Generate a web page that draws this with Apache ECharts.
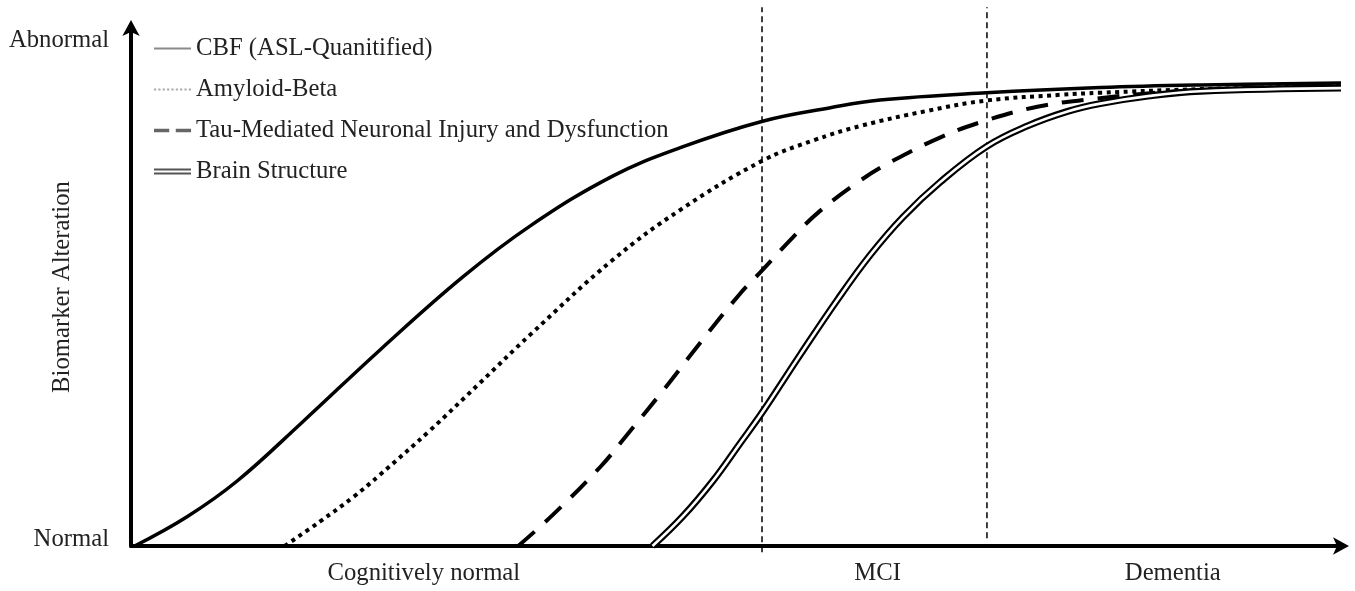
<!DOCTYPE html>
<html><head><meta charset="utf-8">
<script src="https://cdn.jsdelivr.net/npm/echarts@6/dist/echarts.min.js"></script>
<style>html,body{margin:0;padding:0;background:#fff}#c{width:1355px;height:591px}</style>
</head><body><div id="c"></div>
<script>
const seriesNames = ['CBF (ASL-Quanitified)', 'Amyloid-Beta', 'Tau-Mediated Neuronal Injury and Dysfunction', 'Brain Structure'];
const stageLabels = ['Cognitively normal', 'MCI', 'Dementia'];
const stageLabelPos = [24.2, 61.7, 86.1];
const stageBounds = [52.15, 70.74];
const levelLabels = ['Normal', 'Abnormal'];
const levelLabelPos = [1.2, 97.5];
const yTitle = 'Biomarker Alteration';

const cbf = [[0.3,0],[4.6,5.6],[8.8,12.6],[14.2,24.0],[20.6,37.9],[27.4,51.9],[33.0,61.8],[39.8,71.4],[45.4,76.9],[52.2,82.0],[57.8,84.6],[61.9,86.1],[70.7,87.5],[80.1,88.5],[88.4,89.0],[100,89.4]];
const amyloid = [[12.7,0],[15.6,4.7],[18.4,9.5],[20.6,13.8],[24.7,22.3],[28.8,31.4],[33.0,40.8],[39.8,55.2],[45.4,64.9],[52.2,74.4],[56.4,78.3],[60.3,81.1],[65.8,84.0],[70.7,86.0],[76.8,87.1],[80.1,87.5],[88.4,88.2],[100,88.8]];
const tau = [[32.0,0],[34.9,6.1],[38.8,15.3],[40.8,20.9],[44.0,30.1],[47.0,39.1],[50.3,48.6],[52.2,53.3],[54.7,59.6],[56.9,64.6],[60.3,70.6],[63.0,74.4],[66.9,78.9],[70.2,81.8],[74.9,84.8],[79.5,86.3],[84.2,87.4],[88.4,88.0],[100,88.6]];
const brain = [[43.1,0],[45.6,5.7],[48.1,12.6],[50.3,19.7],[52.2,25.9],[55.3,36.9],[58.4,47.6],[61.1,56.2],[63.8,63.5],[66.9,70.3],[70.7,77.1],[74.1,81.1],[77.4,83.9],[80.1,85.4],[84.2,86.9],[88.4,87.8],[100,88.4]];

const F = '"Liberation Serif", "Times New Roman", serif';
const txt = {fontFamily: F, fontSize: 24.7, color: '#222'};

const chart = echarts.init(document.getElementById('c'));
const boundLine = (x, y0) => ({
  type: 'line', data: [[x, y0], [x, 104]], clip: false, symbol: 'none', silent: true,
  lineStyle: {color: '#000', width: 1.5, type: [6, 4]}, z: 1
});
const curve = (name, data, lineStyle, z) => ({
  name: name, type: 'line', data: data, symbol: 'none', smooth: 0.4, silent: true,
  lineStyle: lineStyle, itemStyle: {color: lineStyle.color}, z: z
});
chart.setOption({
  animation: false,
  backgroundColor: '#fff',
  grid: {left: 131, right: 14, top: 28, bottom: 45, outerBoundsMode: 'none', containLabel: false},
  legend: {
    orient: 'vertical', left: 154, top: 36, padding: 0, itemWidth: 37, itemHeight: 12, itemGap: 16,
    selectedMode: false, textStyle: txt,
    data: [
      {name: seriesNames[0], icon: 'path://M0,0h36v2h-36z', itemStyle: {color: '#8a8a8a'}},
      {name: seriesNames[1], icon: 'path://M0,0h2v2h-2zM4,0h2v2h-2zM8,0h2v2h-2zM12,0h2v2h-2zM16,0h2v2h-2zM20,0h2v2h-2zM24,0h2v2h-2zM28,0h2v2h-2zM32,0h2v2h-2z', itemStyle: {color: '#aaaaaa'}},
      {name: seriesNames[2], icon: 'path://M0,0h14v3h-14zM20,0h14v3h-14z', itemStyle: {color: '#666'}},
      {name: seriesNames[3], icon: 'path://M0,0h36v2h-36zM0,4h36v2h-36z', itemStyle: {color: '#555'}}
    ]
  },
  xAxis: {
    type: 'value', min: 0, max: 100,
    splitLine: {show: false}, axisTick: {show: false},
    axisLine: {onZero: false, lineStyle: {color: '#000', width: 4}, symbol: ['none', 'arrow'], symbolSize: [13, 16], symbolOffset: [0, 8]},
    axisLabel: Object.assign({customValues: stageLabelPos, margin: 15,
      formatter: v => stageLabels[stageLabelPos.indexOf(v)] || ''}, txt)
  },
  yAxis: {
    type: 'value', min: 0, max: 100,
    splitLine: {show: false}, axisTick: {show: false},
    axisLine: {onZero: false, lineStyle: {color: '#000', width: 4}, symbol: ['none', 'arrow'], symbolSize: [13, 16], symbolOffset: [0, 8]},
    axisLabel: Object.assign({customValues: levelLabelPos, margin: 22,
      formatter: v => levelLabels[levelLabelPos.indexOf(v)] || ''}, txt),
    name: yTitle, nameLocation: 'middle', nameGap: 56, nameRotate: 90, nameMoveOverlap: false, nameTextStyle: txt
  },
  series: [
    boundLine(stageBounds[0], -1.2),
    boundLine(stageBounds[1], 1.5),
    curve(seriesNames[0], cbf, {color: '#000', width: 3.5}, 3),
    curve(seriesNames[1], amyloid, {color: '#000', width: 4, type: [4, 4.5]}, 3),
    curve(seriesNames[2], tau, {color: '#000', width: 4, type: [22, 14]}, 3),
    curve(seriesNames[3], brain, {color: '#000', width: 7}, 4),
    curve('brain-core', brain, {color: '#fff', width: 2.6}, 5)
  ]
});
</script></body></html>
